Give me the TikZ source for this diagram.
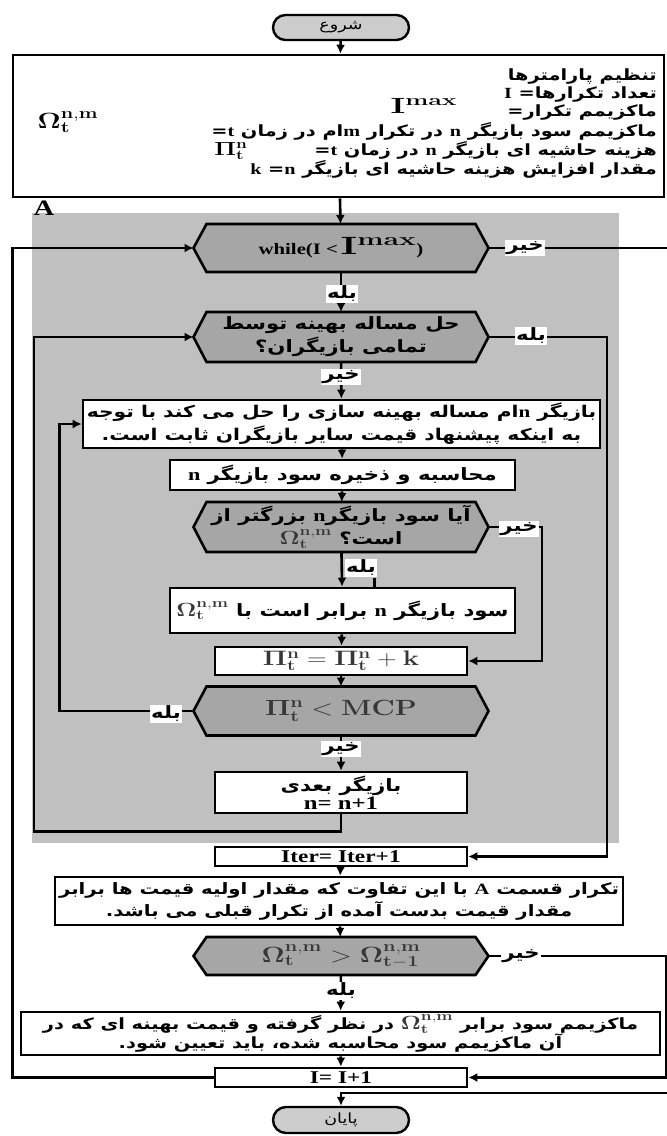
\documentclass[tikz,border=0pt]{standalone}
\usepackage{fix-cm}
\usepackage[no-math]{fontspec}
\usetikzlibrary{arrows.meta}
\TeXXeTstate=1
\newfontfamily\fa[Script=Arabic, FakeStretch=1.25]{DejaVu Sans}
\newfontfamily\latf[FakeStretch=1.3]{Liberation Serif}
\definecolor{regiongray}{RGB}{192,192,192}
\definecolor{hexgray}{RGB}{166,166,166}
\definecolor{ovalgray}{RGB}{204,204,204}
\definecolor{eqgray}{RGB}{55,55,55}
% right-to-left run, and a left-to-right Latin run inside it
\newcommand{\rl}[1]{\beginR #1\endR}
\newcommand{\lt}[1]{\beginL{\latf\bfseries #1}\endL}
% formulas set as one widened unit (always outside right-to-left runs)
\newcommand{\eqbox}[1]{\hbox{{\color{eqgray}\scalebox{1.3}[1]{$\mathbf{#1}$}}}}
\newcommand{\eqblk}[1]{\hbox{\scalebox{1.3}[1]{$\mathbf{#1}$}}}
% decision hexagon: name, cx, cy, half width, half height, text
\newcommand{\hexa}[6]{%
  \draw[line width=2.6pt, fill=hexgray, line join=miter]
    ({#2-#4},#3) -- ({#2-#4+13},{#3-#5}) -- ({#2+#4-13},{#3-#5})
    -- ({#2+#4},#3) -- ({#2+#4-13},{#3+#5}) -- ({#2-#4+13},{#3+#5}) -- cycle;
  \node[txt, minimum width={2*#4}, minimum height={2*#5}, inner sep=0pt, outer sep=0pt] (#1) at (#2,#3) {#6};
}
\tikzset{
  box/.style={draw, line width=2.6pt, fill=white, inner sep=0pt, font=\fa\bfseries\fontsize{17}{23}\selectfont, align=center},
  txt/.style={font=\fa\bfseries\fontsize{17}{23}\selectfont, align=center},
  ptxt/.style={font=\fa\bfseries\fontsize{15.5}{18}\selectfont, anchor=east, inner sep=0pt},
  oval/.style={draw, line width=2.4pt, fill=ovalgray, rounded corners=12.5pt, minimum width=136, minimum height=25, inner sep=0pt, font=\fa\fontsize{14}{16}\selectfont},
  conn/.style={line width=2.6pt},
  arr/.style={conn, -{Latex[length=9pt,width=9pt]}},
  tag/.style={fill=white, inner sep=1.5pt, font=\fa\bfseries\fontsize{17}{19}\selectfont},
  eqn/.style={inner sep=0pt},
  latin/.style={font=\latf\bfseries\fontsize{18}{20}\selectfont},
}
\begin{document}
\begin{tikzpicture}[x=1pt,y=-1pt]
\useasboundingbox (0,0) rectangle (667,1136);
\clip (0,0) rectangle (667,1136);

% shaded block A
\fill[regiongray] (32,213) rectangle (619,843);
\node[font=\latf\bfseries\fontsize{22}{22}\selectfont, inner sep=0pt] (lblA) at (44,208) {A};

% start and parameter block
\node[oval] (start) at (341,27.5) {\rl{شروع}};
\node[box, minimum width=651, minimum height=142] (params) at (338.5,126) {};
\node[ptxt] (p1) at (657,76) {\rl{تنظیم پارامترها}};
\node[ptxt] (p2) at (657,94) {\rl{تعداد تکرارها= \lt{I}}};
\node[ptxt] (p3) at (657,112) {\rl{ماکزیمم تکرار=}};
\node[eqn, font=\fontsize{22}{24}\selectfont] (imax) at (424,106) {\hbox{\scalebox{1.6}[1]{$\mathbf{I}^{\mathbf{max}}$}}};
\node[ptxt] (p4) at (657,131) {\rl{ماکزیمم سود بازیگر \lt{n} در تکرار \lt{m}ام در زمان \lt{t}=}};
\node[eqn, font=\fontsize{22}{24}\selectfont] (omg) at (68,122) {\eqblk{\Omega^{n,m}_t}};
\node[ptxt] (p5) at (657,150) {\rl{هزینه حاشیه ای بازیگر \lt{n} در زمان \lt{t}=}};
\node[eqn, font=\fontsize{19}{21}\selectfont] (pitn) at (231,151) {\eqblk{\Pi^n_t}};
\node[ptxt] (p6) at (657,169) {\rl{مقدار افزایش هزینه حاشیه ای بازیگر \lt{n}= \lt{k}}};

% decisions and steps
\hexa{while}{341}{248}{147.5}{24}{{\latf\bfseries\fontsize{16}{18}\selectfont while(I <\,}\hbox{\fontsize{25}{27}\selectfont\scalebox{1.6}[1]{$\mathbf{I}^{\mathbf{max}}$}}{\latf\bfseries\fontsize{16}{18}\selectfont )}}
\hexa{hex2}{341}{337}{147.5}{25}{\rl{حل مساله بهینه توسط}\\\rl{تمامی بازیگران؟}}

\node[box, minimum width=517, minimum height=48, font=\fa\bfseries\fontsize{16.2}{23}\selectfont] (box3) at (341.5,424)
  {\rl{بازیگر \lt{n}ام مساله بهینه سازی را حل می کند با توجه}\\\rl{به اینکه پیشنهاد قیمت سایر بازیگران ثابت است.}};
\node[box, minimum width=345, minimum height=30] (box4) at (342.5,475) {\rl{محاسبه و ذخیره سود بازیگر \lt{n}}};

\hexa{hex3}{341}{527}{147.5}{25}{\fontsize{17}{21}\selectfont\rl{آیا سود بازیگر\lt{n} بزرگتر از}\\{\fontsize{19}{21}\selectfont\eqbox{\Omega^{n,m}_t}}\ \rl{است؟}}

\node[box, minimum width=345, minimum height=45] (box5) at (342.5,610.5) {{\fontsize{19}{22}\selectfont\eqbox{\Omega^{n,m}_t}}\ \rl{سود بازیگر \lt{n} برابر است با}};
\node[box, minimum width=252, minimum height=28, font=\fontsize{21}{23}\selectfont] (box6) at (341,661) {\eqbox{\Pi^n_t = \Pi^n_t + k}};

\hexa{hex4}{341}{711}{147.5}{24.5}{\fontsize{22}{24}\selectfont\eqbox{\Pi^n_t < MCP}}

\node[box, minimum width=252, minimum height=41, font=\fa\bfseries\fontsize{17}{18}\selectfont] (box7) at (341,792.5) {\rl{بازیگر بعدی}\\\lt{\fontsize{19}{18}\selectfont n= n+1}};

\node[box, minimum width=252, minimum height=19, latin] (iter) at (341,856.5) {Iter= Iter+1};
\node[box, minimum width=568, minimum height=48, font=\fa\bfseries\fontsize{15.7}{22}\selectfont] (box8) at (339,901)
  {\rl{تکرار قسمت \lt{A} با این تفاوت که مقدار اولیه قیمت ها برابر}\\\rl{مقدار قیمت بدست آمده از تکرار قبلی می باشد.}};

\hexa{hex5}{341}{956}{147.5}{19}{\fontsize{22}{24}\selectfont\eqbox{\Omega^{n,m}_t > \Omega^{n,m}_{t-1}}}

\node[box, minimum width=639, minimum height=43, font=\fa\bfseries\fontsize{15.5}{19}\selectfont] (box9) at (340.5,1033.5)
  {\rl{در نظر گرفته و قیمت بهینه ای که در}\ {\fontsize{19}{19}\selectfont\eqbox{\Omega^{n,m}_t}}\ \rl{ماکزیمم سود برابر}\\\rl{آن ماکزیمم سود محاسبه شده، باید تعیین شود.}};
\node[box, minimum width=252, minimum height=19, latin] (iplus) at (341,1077.5) {I= I+1};

\node[oval, minimum height=26, rounded corners=13pt] (end) at (341,1120) {\rl{پایان}};

% straight flow
\draw[arr] (start) -- (params);
\draw[arr] (params) -- (while);
\draw[arr] (while) -- (hex2);
\draw[arr] (hex2) -- (box3);
\draw[arr] (box3) -- (box4);
\draw[arr] (box4) -- (hex3);
\draw[arr] (hex3) -- (box5);
\draw[arr] (box5) -- (box6);
\draw[arr] (box6) -- (hex4);
\draw[arr] (hex4) -- (box7);
\draw[arr] (iter) -- (box8);
\draw[arr] (box8) -- (hex5);
\draw[arr] (hex5) -- (box9);
\draw[arr] (box9) -- (iplus);

% side branches and loops
\draw[arr] (while.east) -- ++(184,0) -- ++(0,845) -| (end.north);
\draw[arr] (iplus.west) -- ++(-201,0) |- (while.west);
\draw[arr] (hex2.east) -- ++(118.5,0) |- (iter.east);
\draw[arr] (box7.south) -- ++(0,17) -- ++(-307,0) |- (hex2.west);
\draw[arr] (hex3.east) -- ++(53.5,0) |- (box6.east);
\draw[arr] (hex4.west) -- ++(-134,0) |- (box3.west);
\draw[arr] (hex5.east) -- ++(177.5,0) |- (iplus.east);

% branch labels
\node[tag] (no1) at (525,248) {\rl{خیر}};
\node[tag] (yes1) at (342,294) {\rl{بله}};
\node[tag] (yes2) at (531,336) {\rl{بله}};
\node[tag] (no2) at (341,377) {\rl{خیر}};
\node[tag] (no3) at (519,529) {\rl{خیر}};
\node[tag] (yes3) at (361,568) {\rl{بله}};
\draw[conn] ([xshift=-3pt]yes3.south east) -- ([xshift=-3pt]yes3.south east |- box5.north);
\node[tag] (yes4) at (166,714) {\rl{بله}};
\node[tag] (no4) at (341,749) {\rl{خیر}};
\node[tag] (no5) at (521,956) {\rl{خیر}};
\node[tag] (yes5) at (341,991) {\rl{بله}};
\end{tikzpicture}
\end{document}
